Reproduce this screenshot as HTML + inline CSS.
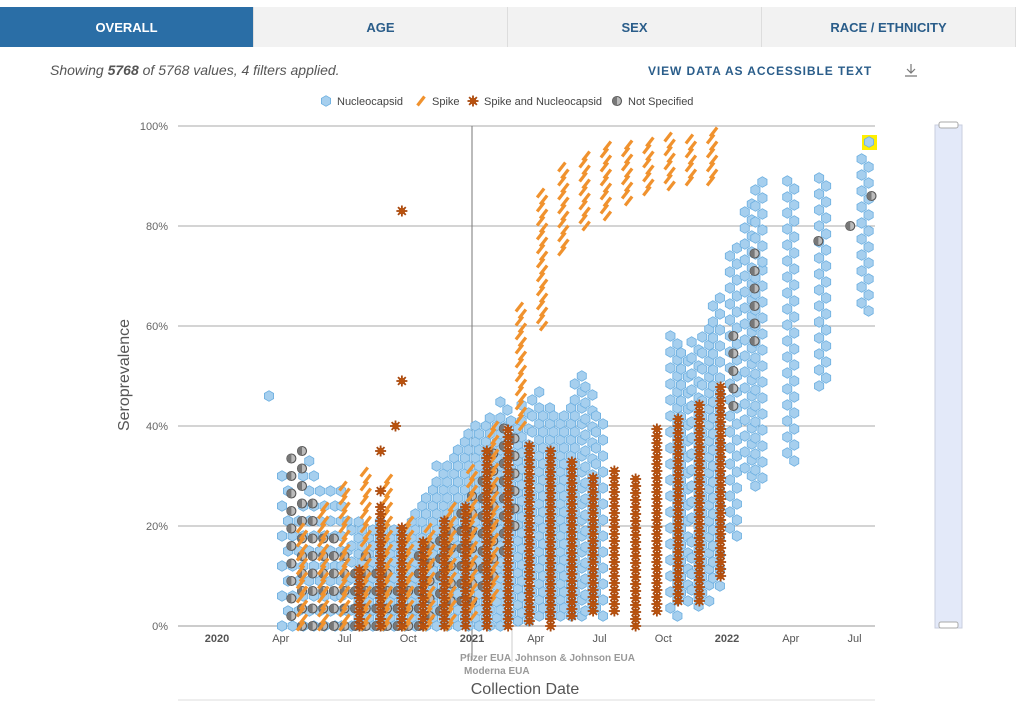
<!DOCTYPE html>
<html><head><meta charset="utf-8"><style>
body{margin:0;width:1024px;height:702px;background:#fff;font-family:"Liberation Sans",sans-serif;overflow:hidden;position:relative}
.tabs{position:absolute;left:0;top:7px;width:1016px;height:40px;display:flex}
.tab{flex:1;background:#f2f2f2;border-right:1px solid #ddd;color:#2a5d8a;font-weight:bold;font-size:13px;display:flex;align-items:center;justify-content:center}
.tab.on{background:#2a6ea6;color:#fff}
.info{position:absolute;left:50px;top:62px;font-size:14px;font-style:italic;color:#555}
.link{position:absolute;left:648px;top:64px;font-size:12px;font-weight:bold;color:#2a5d8a;letter-spacing:.9px}
</style></head><body>
<div class="tabs">
<div class="tab on">OVERALL</div>
<div class="tab">AGE</div>
<div class="tab">SEX</div>
<div class="tab">RACE / ETHNICITY</div>
</div>
<div class="info">Showing <b>5768</b> of 5768 values, 4 filters applied.</div>
<div class="link">VIEW DATA AS ACCESSIBLE TEXT</div>
<svg style="position:absolute;left:903px;top:62px" width="16" height="16"><path d="M8 2v9M4 7l4 4 4-4M2 14h12" stroke="#777" fill="none" stroke-width="1.2"/></svg>
<svg id="c" width="1024" height="702" style="position:absolute;left:0;top:0"></svg>
<script>
// months since Jan 2020
const blueM=[6.5,7,7.5,8,8.5,9,9.5,10,10.5,11,11.5,12,12.5,13,13.5,14,14.5,15,15.5,16,16.5,17,17.5,18,21.5,22,22.5,23,23.5,24.3,25,25.5,27,28.5,30.5];
const blueLo=[0,0,0,0,0,0,0,0,0,0,0,0,0,0,0,1,1,2,2,2,2,2,3,2,2,5,4,5,8,18,30,28,33,48,63];
const blueHi=[22,20,22,20,20,22,25,28,32,34,38,40,40,42,45,42,45,48,45,42,45,50,48,42,58,55,58,60,66,77,85,90,90,90,94];
const blueEarlyM=[3.2,3.7,4.2,4.7,5.2,5.7,6.0];
const blueEarlyHi=[30,22,34,32,28,27,24];
const spikeM=[14.3,15.3,16.3,17.3,18.3,19.3,20.3,21.3,22.3,23.3,6,7,8,9,10,11,12,13,4,5];
const spikeLo=[40,60,75,80,82,85,87,88,89,89,0,0,0,0,0,0,2,5,0,0];
const spikeHi=[65,87,93,95,96,97,97,98,98,99,28,32,30,22,20,25,32,40,20,24];
const starM=[6.7,7.7,8.7,9.7,10.7,11.7,12.7,13.7,14.7,15.7,16.7,17.7,18.7,19.7,20.7,21.7,22.7,23.7];
const starLo=[0,0,0,0,0,0,0,0,1,0,2,3,3,0,3,5,5,10];
const starHi=[12,25,20,18,22,25,35,40,37,35,33,30,31,30,40,42,45,48];
const starExtraM=[8.7,8.7,8.4,7.7,7.7];
const starExtraV=[83,49,40,35,27];
const greyM=[3.5,4,4.5,5,5.5,6,6.5,7,7.5,8,8.5,9,9.5,10,10.5,11,11.5,12,12.5,13,13.5,14,24.3,25.3,28.3,29.8,30.8];
const greyLo=[2,0,0,0,0,0,0,0,0,0,0,0,0,2,3,5,5,5,8,10,15,20,44,57,77,80,86];
const greyHi=[36,35,25,20,18,15,12,15,12,12,10,10,14,16,20,22,25,28,30,35,41,40,58,75,77,80,86];
const yTicks=[0,20,40,60,80,100];
const xTickM=[0,3,6,9,12,15,18,21,24,27,30];
const xTickL=["2020","Apr","Jul","Oct","2021","Apr","Jul","Oct","2022","Apr","Jul"];

const S=document.getElementById('c'),NS='http://www.w3.org/2000/svg';
const X=m=>217+m*21.25, Y=v=>626-v*5;
function mk(t,a,p){const e=document.createElementNS(NS,t);for(const k in a)e.setAttribute(k,a[k]);(p||S).appendChild(e);return e;}
yTicks.forEach(v=>{
 const l=mk('line',{x1:178,x2:875,y1:Y(v),y2:Y(v),stroke:v==0?'#999':'#aaa','stroke-width':1});
 
 
 const t=mk('text',{x:168,y:Y(v)+4,'text-anchor':'end','font-size':11,fill:'#666'});t.textContent=v+'%';
 
 
});
xTickM.forEach((m,i)=>{
 const t=mk('text',{x:X(m),y:642,'text-anchor':'middle','font-size':11,fill:'#555','font-weight':(i%4==0)?'bold':'normal'});t.textContent=xTickL[i];
 
 
});
const ev=mk('line',{x1:472,x2:472,y1:126,y2:660,stroke:'#777'});


const ev2=mk('line',{x1:512,x2:512,y1:626,y2:662,stroke:'#ccc'});


[['Pfizer EUA',460,661],['Moderna EUA',464,674],['Johnson & Johnson EUA',515,661]].forEach(a=>{
 const t=mk('text',{x:a[1],y:a[2],'font-size':10,'font-weight':'bold',fill:'#999'});t.textContent=a[0];
 
 
});
const hx=(x,y)=>{const r=5.3;let p='';for(let i=0;i<6;i++){const a=Math.PI/3*i+Math.PI/6;p+=(i?'L':'M')+(x+r*Math.cos(a)).toFixed(1)+' '+(y+r*Math.sin(a)).toFixed(1);}return p+'Z';};
function blue(x,y){const e=mk('path',{d:hx(x,y),fill:'#a6cfee',stroke:'#6aaee0','stroke-width':0.8});
 
 }
function spike(x,y){const e=mk('line',{x1:x-3.5,y1:y+4.5,x2:x+3.5,y2:y-4.5,stroke:'#f0922e','stroke-width':3.2});
 
 }
function star(x,y){const g=mk('g',{});for(let i=0;i<4;i++){const a=Math.PI/4*i;mk('line',{x1:x-5.5*Math.cos(a),y1:y-5.5*Math.sin(a),x2:x+5.5*Math.cos(a),y2:y+5.5*Math.sin(a),stroke:'#a84a10','stroke-width':1.8},g);}mk('circle',{cx:x,cy:y,r:3.3,fill:'#b8520f'},g);
 
 }
function grey(x,y){const g=mk('g',{});mk('circle',{cx:x,cy:y,r:4.5,fill:'#bbb',stroke:'#555','stroke-width':1.1},g);mk('path',{d:`M${x} ${y-4.5}A4.5 4.5 0 0 0 ${x} ${y+4.5}Z`,fill:'#777'},g);
 
 }
function col(M,L,H,step,f,jit){M.forEach((m,i)=>{for(let v=L[i];v<=H[i]+0.01;v+=step)f(X(m)+(jit?((Math.round(v/step))%2?jit:-jit):0),Y(v));});}
col(blueEarlyM,blueEarlyM.map(()=>0),blueEarlyHi,3,blue,3);
col(blueM,blueLo,blueHi,1.6,blue,3.5);
col(greyM,greyLo,greyHi,3.5,grey,0);
col(spikeM,spikeLo,spikeHi,1.4,spike,1.5);
col(starM,starLo,starHi,1.4,star,0);
starExtraM.forEach((m,i)=>star(X(m),Y(starExtraV[i])));
blue(269,Y(46));
const hl=mk('rect',{x:862,y:135,width:15,height:15,fill:'#ffef00'});


blue(869,142);
const yt=mk('text',{x:129,y:375,'text-anchor':'middle','font-size':16,fill:'#555',transform:'rotate(-90 129 375)'});yt.textContent='Seroprevalence';


const xt=mk('text',{x:525,y:694,'text-anchor':'middle','font-size':16,fill:'#555'});xt.textContent='Collection Date';


const bl=mk('line',{x1:178,x2:875,y1:700,y2:700,stroke:'#ddd'});


const leg=[['Nucleocapsid',326,blue],['Spike',421,spike],['Spike and Nucleocapsid',473,star],['Not Specified',617,grey]];
leg.forEach(a=>{a[2](a[1],101);const t=mk('text',{x:a[1]+11,y:105,'font-size':11,fill:'#444'});t.textContent=a[0];
 
 });
const sb=mk('rect',{x:935,y:125,width:27,height:503,fill:'#e3e9f9',stroke:'#c8cede'});


[125,625].forEach(y=>{const h=mk('rect',{x:939,y:y-3,width:19,height:6,rx:2,fill:'#fff',stroke:'#aaa'});
 
 });
</script>
</body></html>
